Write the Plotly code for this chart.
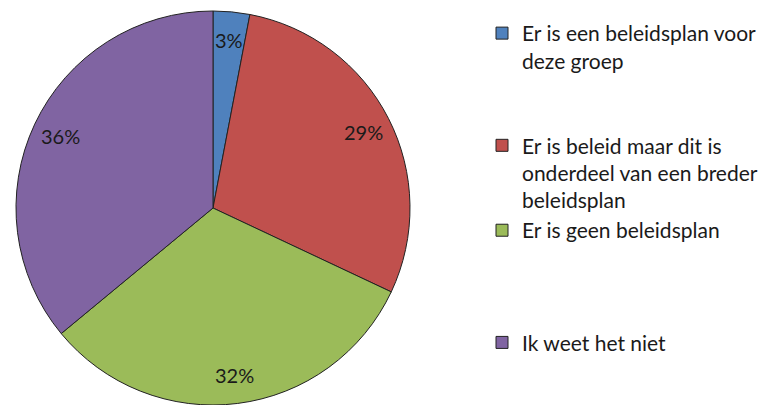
import math
import plotly.graph_objects as go

# survey answers, clockwise from 12 o'clock
labels = [
    "Er is een beleidsplan voor<br>deze groep<br> <br> ",
    "Er is beleid maar dit is<br>onderdeel van een breder<br>beleidsplan",
    "Er is geen beleidsplan<br> <br> <br> ",
    "Ik weet het niet",
]
values = [3, 29, 32, 36]
colors = ["#4F81BD", "#C0504D", "#9BBB59", "#8064A2"]

# page body adds an 8px margin, so the figure is drawn 8px smaller
W, H = 769, 397
top = 3
plot_h = H - top
dom_w = 410
R = min(dom_w, plot_h) / 2

fig = go.Figure(go.Pie(
    labels=labels,
    values=values,
    sort=False,
    direction="clockwise",
    rotation=0,
    marker=dict(colors=colors, line=dict(color="#222222", width=1)),
    textinfo="none",
    domain=dict(x=[0, dom_w / W], y=[0, 1]),
    hoverinfo="label+percent",
))

# percentage labels placed near the rim, on each slice's bisector
total = sum(values)
cum = 0
for v in values:
    mid = (cum + v / 2) / total * 2 * math.pi
    cum += v
    px_ = dom_w / 2 + 0.855 * R * math.sin(mid)
    py_ = plot_h / 2 + 0.855 * R * math.cos(mid)
    fig.add_annotation(
        x=px_ / W, y=py_ / plot_h, xref="paper", yref="paper",
        xanchor="center", yanchor="middle",
        text=f"{v}%", showarrow=False,
        font=dict(family="Lato", size=20, color="#1a1a1a"),
    )

fig.update_layout(
    width=W,
    height=H,
    margin=dict(l=0, r=0, t=top, b=0, autoexpand=False),
    paper_bgcolor="white",
    plot_bgcolor="white",
    font=dict(family="Lato", size=21, color="#1a1a1a"),
    legend=dict(
        x=474 / W, y=0.995,
        xanchor="left", yanchor="top",
        valign="top",
        maxheight=1,
        font=dict(family="Lato", size=21, color="#1a1a1a"),
        bgcolor="rgba(0,0,0,0)",
    ),
)

fig.write_html("out.html")
